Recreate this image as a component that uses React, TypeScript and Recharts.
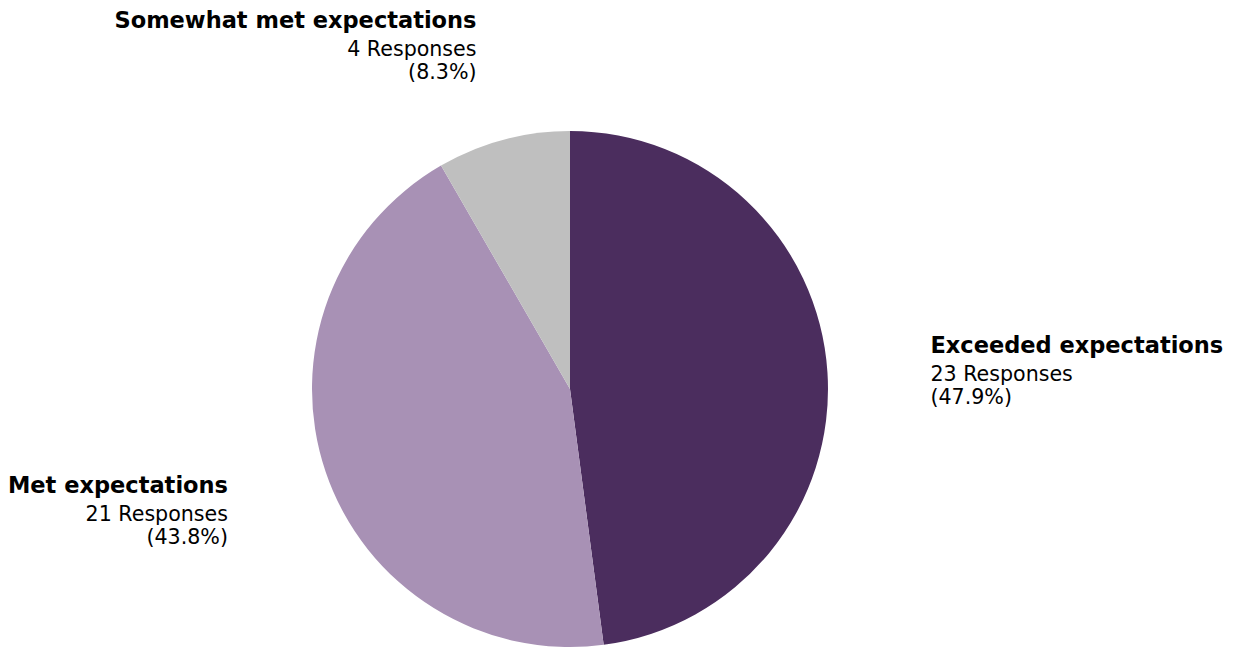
import React from 'react';
import { PieChart, Pie, Cell } from 'recharts';

const categories = ['Exceeded expectations', 'Met expectations', 'Somewhat met expectations'];
const responses = [23, 21, 4];
const colors = ['#4B2D5E', '#A891B5', '#BFBFBF'];

const data = categories.map((name, i) => ({ name, value: responses[i] }));
const total = responses.reduce((a, b) => a + b, 0);

const RADIAN = Math.PI / 180;
const FONT = '"DejaVu Sans", sans-serif';

const renderLabel = (props: any) => {
  const { cx, cy, midAngle, outerRadius, name, value } = props;
  const r = outerRadius * 1.4;
  const cos = Math.cos(-midAngle * RADIAN);
  const sin = Math.sin(-midAngle * RADIAN);
  const x = cx + r * cos;
  const y = cy + r * sin;
  const anchor = cos >= 0 ? 'start' : 'end';
  const pct = ((value / total) * 100).toFixed(1);
  return (
    <g fontFamily={FONT} fill="#000">
      <text x={x} y={y - 20} textAnchor={anchor} dominantBaseline="central" fontSize={22.5} fontWeight="bold">
        {name}
      </text>
      <text x={x} y={y + 9} textAnchor={anchor} dominantBaseline="central" fontSize={20.6}>
        {`${value} Responses`}
      </text>
      <text x={x} y={y + 32} textAnchor={anchor} dominantBaseline="central" fontSize={20.6}>
        {`(${pct}%)`}
      </text>
    </g>
  );
};

export default function App() {
  return (
    <div style={{ position: 'absolute', left: 0, top: 0, background: '#fff' }}>
      <PieChart width={1238} height={648} margin={{ top: 0, right: 0, bottom: 0, left: 0 }}>
        <Pie
          data={data}
          dataKey="value"
          nameKey="name"
          cx={570}
          cy={389}
          outerRadius={258}
          startAngle={90}
          endAngle={-270}
          stroke="none"
          label={renderLabel}
          labelLine={false}
          isAnimationActive={false}
        >
          {data.map((d, i) => (
            <Cell key={d.name} fill={colors[i]} />
          ))}
        </Pie>
      </PieChart>
    </div>
  );
}
